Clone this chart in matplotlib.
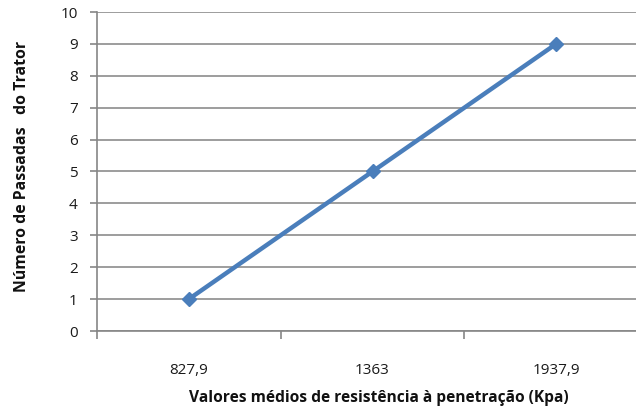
import matplotlib
matplotlib.use("Agg")
import matplotlib.pyplot as plt
from matplotlib.ticker import FixedLocator, NullFormatter, FixedFormatter

categories = ["827,9", "1363", "1937,9"]
values = [1, 5, 9]

plt.rcParams['font.family'] = ['Open Sans', 'DejaVu Sans']

W, H = 636, 411
fig = plt.figure(figsize=(W/100, H/100), dpi=100)
left, right, top, bottom = 97, 648, 12, 331
ax = fig.add_axes([left/W, (H-bottom)/H, (right-left)/W, (bottom-top)/H])

x = list(range(len(categories)))
ax.plot(x, values, color='#4A7EBB', lw=3.2, marker='D', ms=7.5,
        solid_capstyle='round', zorder=3, clip_on=False)

ax.set_xlim(-0.5, len(categories)-0.5)
ax.set_ylim(0, 10)
ax.set_yticks(range(0, 11))
ax.yaxis.grid(True, color='#8C8C8C', lw=1.2)
ax.set_axisbelow(True)

ax.xaxis.set_major_locator(FixedLocator([i - 0.5 for i in range(len(categories)+1)]))
ax.xaxis.set_major_formatter(NullFormatter())
ax.xaxis.set_minor_locator(FixedLocator(x))
ax.xaxis.set_minor_formatter(FixedFormatter(categories))
ax.tick_params(axis='x', which='major', length=6, width=1.2, color='#868686', direction='out')
ax.tick_params(axis='x', which='minor', length=0, pad=23, labelsize=11, labelcolor='#1a1a1a')
ax.tick_params(axis='y', length=5, width=1.2, color='#868686', labelsize=11, labelcolor='#1a1a1a', pad=9)

for s in ['top', 'right']:
    ax.spines[s].set_visible(False)
for s in ['left', 'bottom']:
    ax.spines[s].set_color('#868686')
    ax.spines[s].set_linewidth(1.2)

fig.text(379/W, (H-398)/H, "Valores médios de resistência à penetração (Kpa)",
         ha='center', va='center', fontsize=11.2, fontweight='bold', color='#111111')
fig.text(22/W, (H-166)/H, "Número de Passadas   do Trator", rotation=90,
         ha='center', va='center', fontsize=11.4, fontweight='bold', color='#111111')

fig.savefig("out.png", dpi=100)
